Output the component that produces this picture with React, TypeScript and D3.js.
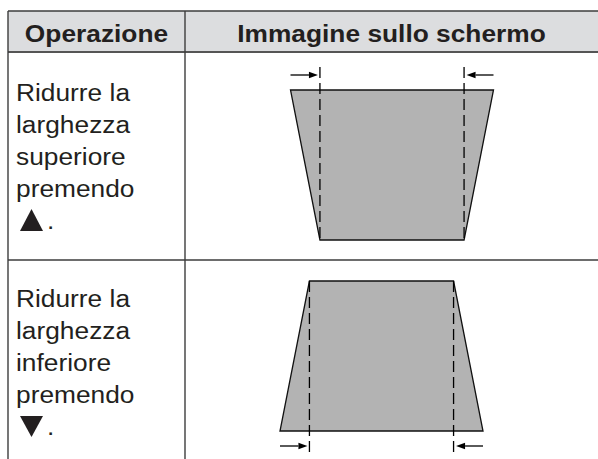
import React from 'react';
import * as d3 from 'd3';

// table content
const headers = ['Operazione', 'Immagine sullo schermo'];
const operationLines = [
  ['Ridurre la', 'larghezza', 'superiore', 'premendo'],
  ['Ridurre la', 'larghezza', 'inferiore', 'premendo'],
];
const keyDirection = ['up', 'down'];
// keystone: width of the projected image edges, percent of full width
const topWidth = [100, 71];
const bottomWidth = [71, 100];

const W = 598;
const H = 459;
const left = 8;
const right = 598;
const colSplit = 185;
const rowEdges = [11, 52, 260, 480];
const imgCenter = [392, 381.5];
const imgTop = [90, 281];
const imgHeight = 150;
const fullPx = 203;
const textColor = '#231f20';
const font = '"Liberation Sans", Arial, Helvetica, sans-serif';

const Arrow: React.FC<{ from: number; to: number; y: number }> = ({ from, to, y }) => {
  const dir = Math.sign(to - from);
  const head = 9;
  return (
    <g>
      <line x1={from} x2={to - dir * head} y1={y} y2={y} stroke="#000" strokeWidth={1.3} />
      <path d={`M${to},${y} L${to - dir * head},${y - 3.2} L${to - dir * head},${y + 3.2} Z`} fill="#000" />
    </g>
  );
};

const App: React.FC = () => {
  const sx = 1.12;
  return (
    <svg width={W} height={H} style={{ position: 'absolute', left: 0, top: 0 }} fontFamily={font}>
      <rect width={W} height={H} fill="#fff" />
      {/* header background */}
      <rect x={left} y={rowEdges[0]} width={right - left} height={rowEdges[1] - rowEdges[0]} fill="#dcdddf" />

      {/* header text */}
      {headers.map((h, i) => {
        const cx = i === 0 ? (left + colSplit) / 2 : (colSplit + right) / 2;
        return (
          <text key={h} transform={`translate(${cx},42) scale(${sx},1)`} textAnchor="middle"
            fontSize={23.5} fontWeight="bold" fill={textColor}>{h}</text>
        );
      })}

      {/* rows */}
      {operationLines.map((lines, r) => {
        const y0 = rowEdges[r + 1];
        const base = y0 + (r === 0 ? 49 : 47);
        const lastBase = base + 4 * 32;
        const up = keyDirection[r] === 'up';
        const tri = up
          ? `M20,${lastBase + 2} L43,${lastBase + 2} L31.5,${lastBase - 20} Z`
          : `M20,${lastBase - 19} L43,${lastBase - 19} L31.5,${lastBase + 2} Z`;

        const x = d3.scaleLinear().domain([-50, 50]).range([imgCenter[r] - fullPx / 2, imgCenter[r] + fullPx / 2]);
        const y = d3.scaleLinear().domain([0, 1]).range([imgTop[r], imgTop[r] + imgHeight]);
        const tw = topWidth[r] / 2;
        const bw = bottomWidth[r] / 2;
        const poly = d3.line()([
          [x(-tw), y(0)], [x(tw), y(0)], [x(bw), y(1)], [x(-bw), y(1)],
        ]) + 'Z';
        const narrow = Math.min(tw, bw);
        const arrowY = up ? y(0) - 15 : y(1) + 15;
        const dashTop = up ? arrowY - 8 : y(0);
        const dashBottom = up ? y(1) : arrowY + 6;
        return (
          <g key={r}>
            {lines.map((ln, i) => (
              <text key={i} transform={`translate(16,${base + i * 32}) scale(${sx},1)`}
                fontSize={23.5} fill={textColor}>{ln}</text>
            ))}
            <path d={tri} fill={textColor} />
            <text transform={`translate(47,${lastBase}) scale(${sx},1)`} fontSize={23.5} fill={textColor}>.</text>

            <path d={poly} fill="#b3b3b3" stroke="#111" strokeWidth={1.3} strokeLinejoin="miter" />
            {[-narrow, narrow].map((v) => (
              <line key={v} x1={x(v)} x2={x(v)} y1={dashTop} y2={dashBottom}
                stroke="#000" strokeWidth={1.3} strokeDasharray="11,5" />
            ))}
            <Arrow from={x(-50)} to={x(-narrow) - 2} y={arrowY} />
            <Arrow from={x(50)} to={x(narrow) + 2.5} y={arrowY} />
          </g>
        );
      })}

      {/* grid lines */}
      <line x1={left} x2={right} y1={rowEdges[0]} y2={rowEdges[0]} stroke="#3d3d3d" strokeWidth={1.4} />
      <line x1={left} x2={right} y1={rowEdges[1]} y2={rowEdges[1]} stroke="#555" strokeWidth={2} />
      <line x1={left} x2={right} y1={rowEdges[2]} y2={rowEdges[2]} stroke="#3d3d3d" strokeWidth={1.4} />
      <line x1={left} x2={left} y1={rowEdges[0]} y2={H} stroke="#3d3d3d" strokeWidth={1.4} />
      <line x1={colSplit} x2={colSplit} y1={rowEdges[0]} y2={H} stroke="#3d3d3d" strokeWidth={1.4} />
    </svg>
  );
};

export default App;
